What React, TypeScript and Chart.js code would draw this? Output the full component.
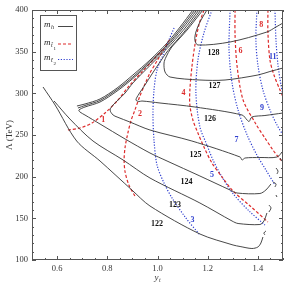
import React, { useEffect, useRef } from "react";
import { Chart, registerables } from "chart.js";

Chart.register(...registerables);

const X_MIN = 0.5;
const X_MAX = 1.5;
const Y_MIN = 100;
const Y_MAX = 400;
const X_TICK_LABELS = [0.6, 0.8, 1.0, 1.2, 1.4];
const Y_TICK_LABELS = [100, 150, 200, 250, 300, 350, 400];
const X_MINOR_STEP = 0.05;
const Y_MINOR_STEP = 10;

// m_h contours (y_t, Λ in TeV)
const MH_122 = [[0.544,307.6],[0.592,286],[0.678,242.8],[0.771,218.8],[0.898,184],[0.970,164.8],[1.169,131.2],[1.301,118],[1.329,116.2],[1.376,113.8],[1.400,115.6],[1.412,120.4],[1.420,127.6]];
const MH_123 = [[0.588,290.8],[0.651,269.2],[0.743,242.8],[0.863,220],[0.970,198.4],[1.169,168.4],[1.297,146.8],[1.321,143.8],[1.408,142.6],[1.424,146.8],[1.436,156.4]];
const MH_124 = [[1.157,400],[1.098,377.2],[1.038,356.2],[0.970,336.4],[0.902,317.8],[0.839,302.8],[0.771,289.6],[0.711,283.6],[0.687,280],[0.691,277.6],[0.711,274],[0.771,263.2],[0.871,245.2],[0.970,228.4],[1.038,218.8],[1.169,200.8],[1.289,184],[1.317,180.4],[1.408,179.8],[1.432,184],[1.452,191.2]];
const MH_125 = [[1.165,400],[1.102,375.4],[1.038,353.8],[0.970,333.4],[0.902,312.4],[0.871,300.4],[0.843,292],[0.823,286],[0.811,280],[0.823,274],[0.839,271.6],[0.890,265.6],[0.970,256],[1.137,242.8],[1.329,223.6],[1.337,220],[1.349,222.4],[1.408,223],[1.476,223.6],[1.500,230.8]];
const MH_126 = [[1.173,400],[1.106,373.6],[1.042,351.4],[1.010,337.6],[0.978,323.2],[0.950,310],[0.926,299.2],[0.914,292],[0.926,290.2],[0.938,290.8],[1.010,288.4],[1.149,283.6],[1.337,274],[1.357,268],[1.365,266.2],[1.376,271.6],[1.428,273.4],[1.500,276.4]];
const MH_127 = [[1.181,400],[1.118,376],[1.082,364],[1.054,354.4],[1.034,343.6],[1.026,336.4],[1.030,325.6],[1.050,319.6],[1.169,316],[1.269,316],[1.400,322],[1.448,326.2],[1.500,330.4]];
const MH_128 = [[1.197,400],[1.169,385.6],[1.153,373.6],[1.149,364],[1.161,358],[1.289,361.6],[1.436,373.6],[1.472,379.6],[1.500,384.4]];
const MH_BAND_A = [[0.679,284.8],[0.711,287.2],[0.771,293.2],[0.839,306.4],[0.902,322],[0.970,340],[1.038,360.4],[1.090,379.6],[1.141,400]];
const MH_BAND_B = [[0.683,282.4],[0.711,285.4],[0.771,291.4],[0.839,304.6],[0.902,319.6],[0.970,338.2],[1.038,358],[1.094,378.4],[1.149,400]];
const MH_BITS = [
  [[1.488,222.4],[1.496,218.8]],
  [[1.472,210.4],[1.480,206.8],[1.476,203.2]],
  [[1.460,193.6],[1.472,191.2],[1.468,187.6]],
  [[1.472,178],[1.476,175.6]],
  [[1.444,166],[1.452,162.4],[1.444,157.6]],
  [[1.432,134.8],[1.424,132.4],[1.428,130]],
];

// m_stop1 contours (red dashed)
const ST1_1 = [[0.643,256],[0.691,258.4],[0.739,264.4],[0.791,276.4],[0.839,290.8],[0.890,310],[0.938,325.6],[0.990,342.4],[1.018,352]];
const ST1_2 = [[0.910,176.8],[0.886,190],[0.871,205.6],[0.867,220],[0.871,235.6],[0.882,252.4],[0.894,266.8],[0.910,280],[0.930,296.8],[0.950,311.2],[0.970,324.4],[0.998,338.8],[1.026,353.2],[1.050,365.2]];
const ST1_4 = [[1.185,400],[1.165,382],[1.149,358],[1.137,331.6],[1.129,304],[1.129,286],[1.141,268],[1.161,252.4],[1.185,235.6],[1.217,216.4],[1.257,199.6],[1.301,182.8],[1.369,164.8],[1.440,145.6]];
const ST1_6 = [[1.309,400],[1.309,370],[1.317,332.8],[1.341,292],[1.392,263.2],[1.428,246.4],[1.460,232],[1.488,221.2],[1.500,217.6]];
const ST1_8 = [[1.440,400],[1.440,372.4],[1.448,340],[1.464,322],[1.488,304],[1.500,295.6]];

// m_stop2 contours (blue dotted)
const ST2_3 = [[1.066,378.4],[1.042,361.6],[1.022,346],[0.998,328],[0.986,304],[0.982,274],[0.986,244],[0.998,214],[1.026,192.4],[1.058,174.4],[1.110,151.6],[1.169,130]];
const ST2_5 = [[1.217,400],[1.185,372.4],[1.161,340],[1.153,300.4],[1.169,259.6],[1.197,238],[1.221,220],[1.257,199.6],[1.301,179.6],[1.365,158.8],[1.428,142]];
const ST2_7 = [[1.289,400],[1.285,352],[1.297,312.4],[1.321,280],[1.357,250],[1.396,226],[1.432,208],[1.468,190]];
const ST2_9 = [[1.396,400],[1.392,364],[1.400,334],[1.420,304],[1.448,280],[1.476,262],[1.500,250]];
const ST2_11 = [[1.468,400],[1.472,364],[1.480,334],[1.492,310],[1.500,298]];

// contour labels: [text, y_t, Λ]
const MH_LABELS: [string, number, number][] = [["122",0.998,142.8],["123",1.070,166],["124",1.116,193.6],["125",1.151,226],["126",1.209,269.2],["127",1.227,308.8],["128",1.223,348]];
const ST1_LABELS: [string, number, number][] = [["1",0.784,268],["2",0.930,275.2],["4",1.104,300],["6",1.331,351.2],["8",1.413,381.6]];
const ST2_LABELS: [string, number, number][] = [["3",1.139,148.4],["5",1.217,202.5],["7",1.315,244],["9",1.416,282],["11",1.459,343.2]];

const BLACK = "#333333";
const RED = "#dd2b2b";
const BLUE = "#2f3fcf";
const SERIF = "'Liberation Serif', 'DejaVu Serif', serif";

const toXY = (pts: number[][]) => pts.map(([x, y]) => ({ x, y }));

const blackLine = (pts: number[][]) => ({
  data: toXY(pts), showLine: true, pointRadius: 0, borderColor: BLACK, borderWidth: 0.9, tension: 0.3, fill: false,
});
const redLine = (pts: number[][]) => ({
  data: toXY(pts), showLine: true, pointRadius: 0, borderColor: RED, borderWidth: 1.2, borderDash: [3, 2], tension: 0.3, fill: false,
});
const blueLine = (pts: number[][]) => ({
  data: toXY(pts), showLine: true, pointRadius: 0, borderColor: BLUE, borderWidth: 1.2, borderDash: [1.2, 1.6], tension: 0.3, fill: false,
});

const decorPlugin = {
  id: "decor",
  afterDatasetsDraw(chart: any) {
    const { ctx, chartArea: a, scales } = chart;
    const xs = scales.x;
    const ys = scales.y;
    ctx.save();

    // contour labels
    ctx.textAlign = "center";
    ctx.textBaseline = "middle";
    ctx.font = `bold 8px ${SERIF}`;
    const drawLabels = (list: [string, number, number][], color: string) => {
      ctx.fillStyle = color;
      list.forEach(([t, x, y]) => ctx.fillText(t, xs.getPixelForValue(x), ys.getPixelForValue(y)));
    };
    drawLabels(MH_LABELS, "#111");
    drawLabels(ST1_LABELS, RED);
    drawLabels(ST2_LABELS, BLUE);

    // frame
    ctx.strokeStyle = "#555";
    ctx.lineWidth = 1;
    ctx.setLineDash([]);
    ctx.strokeRect(a.left + 0.5, a.top + 0.5, a.right - a.left - 1, a.bottom - a.top - 1);

    // inward ticks on all sides
    ctx.beginPath();
    for (let v = X_MIN; v <= X_MAX + 1e-9; v += X_MINOR_STEP) {
      const px = Math.round(xs.getPixelForValue(v)) + 0.5;
      const major = X_TICK_LABELS.some((t) => Math.abs(t - v) < 1e-6);
      const len = major ? 4 : 2;
      ctx.moveTo(px, a.bottom); ctx.lineTo(px, a.bottom - len);
      ctx.moveTo(px, a.top); ctx.lineTo(px, a.top + len);
    }
    for (let v = Y_MIN; v <= Y_MAX + 1e-9; v += Y_MINOR_STEP) {
      const py = Math.round(ys.getPixelForValue(v)) + 0.5;
      const major = Y_TICK_LABELS.some((t) => Math.abs(t - v) < 1e-6);
      const len = major ? 4 : 2;
      ctx.moveTo(a.left, py); ctx.lineTo(a.left + len, py);
      ctx.moveTo(a.right, py); ctx.lineTo(a.right - len, py);
    }
    ctx.stroke();

    // tick labels
    ctx.fillStyle = "#333";
    ctx.font = `8.5px ${SERIF}`;
    ctx.textAlign = "center";
    ctx.textBaseline = "top";
    X_TICK_LABELS.forEach((v) => ctx.fillText(v.toFixed(1), xs.getPixelForValue(v), a.bottom + 5));
    ctx.textAlign = "right";
    ctx.textBaseline = "middle";
    Y_TICK_LABELS.forEach((v) => ctx.fillText(String(v), a.left - 4, ys.getPixelForValue(v)));

    // axis titles
    ctx.font = `italic 9px ${SERIF}`;
    ctx.textAlign = "left";
    ctx.textBaseline = "alphabetic";
    const cx = (a.left + a.right) / 2;
    ctx.fillText("y", cx - 3, a.bottom + 20);
    ctx.font = `italic 6px ${SERIF}`;
    ctx.fillText("t", cx + 1.5, a.bottom + 22);

    ctx.save();
    ctx.translate(10, (a.top + a.bottom) / 2);
    ctx.rotate(-Math.PI / 2);
    ctx.font = `9px ${SERIF}`;
    ctx.textAlign = "center";
    ctx.textBaseline = "middle";
    ctx.fillText("Λ (TeV)", 0, 0);
    ctx.restore();

    // legend
    const lx = 40.5, ly = 15.5, lw = 36, lh = 55;
    ctx.fillStyle = "#fff";
    ctx.fillRect(lx, ly, lw, lh);
    ctx.strokeStyle = "#555";
    ctx.lineWidth = 1;
    ctx.strokeRect(lx, ly, lw, lh);

    const entries = [
      { sub: "h", subsub: "", color: BLACK, dash: [] as number[], y: 26 },
      { sub: "t\u0303", subsub: "1", color: RED, dash: [3, 2], y: 43.5 },
      { sub: "t\u0303", subsub: "2", color: BLUE, dash: [1.2, 1.6], y: 59 },
    ];
    entries.forEach((e) => {
      ctx.fillStyle = "#222";
      ctx.textAlign = "left";
      ctx.textBaseline = "alphabetic";
      ctx.font = `italic 9px ${SERIF}`;
      ctx.fillText("m", 44, e.y + 1);
      ctx.font = `italic 6px ${SERIF}`;
      ctx.fillText(e.sub, 51, e.y + 3);
      if (e.subsub) {
        ctx.font = `5px ${SERIF}`;
        ctx.fillText(e.subsub, 53.5, e.y + 6);
      }
      ctx.strokeStyle = e.color;
      ctx.lineWidth = e.dash.length ? 1.2 : 0.9;
      ctx.setLineDash(e.dash);
      ctx.beginPath();
      ctx.moveTo(e.subsub ? 58 : 58, e.y + 0.5);
      ctx.lineTo(73, e.y + 0.5);
      ctx.stroke();
      ctx.setLineDash([]);
    });

    ctx.restore();
  },
};

export default function App() {
  const ref = useRef<HTMLCanvasElement | null>(null);
  useEffect(() => {
    if (!ref.current) return;
    const datasets: any[] = [
      ...[MH_BAND_A, MH_BAND_B, MH_122, MH_123, MH_124, MH_125, MH_126, MH_127, MH_128].map(blackLine),
      ...MH_BITS.map((b) => ({ ...blackLine(b), tension: 0.4 })),
      ...[ST1_1, ST1_2, ST1_4, ST1_6, ST1_8].map(redLine),
      ...[ST2_3, ST2_5, ST2_7, ST2_9, ST2_11].map(blueLine),
    ];
    const chart = new Chart(ref.current, {
      type: "scatter",
      data: { datasets },
      options: {
        animation: false,
        responsive: false,
        maintainAspectRatio: false,
        layout: { padding: { left: 32, top: 10, right: 9, bottom: 31 } },
        plugins: { legend: { display: false }, tooltip: { enabled: false } },
        scales: {
          x: { type: "linear", min: X_MIN, max: X_MAX, display: false },
          y: { type: "linear", min: Y_MIN, max: Y_MAX, display: false },
        },
      },
      plugins: [decorPlugin],
    });
    return () => chart.destroy();
  }, []);
  return (
    <div style={{ position: "fixed", left: 0, top: 0, width: 292, height: 291, background: "#fff" }}>
      <canvas ref={ref} width={292} height={291} style={{ display: "block", width: 292, height: 291 }} />
    </div>
  );
}
